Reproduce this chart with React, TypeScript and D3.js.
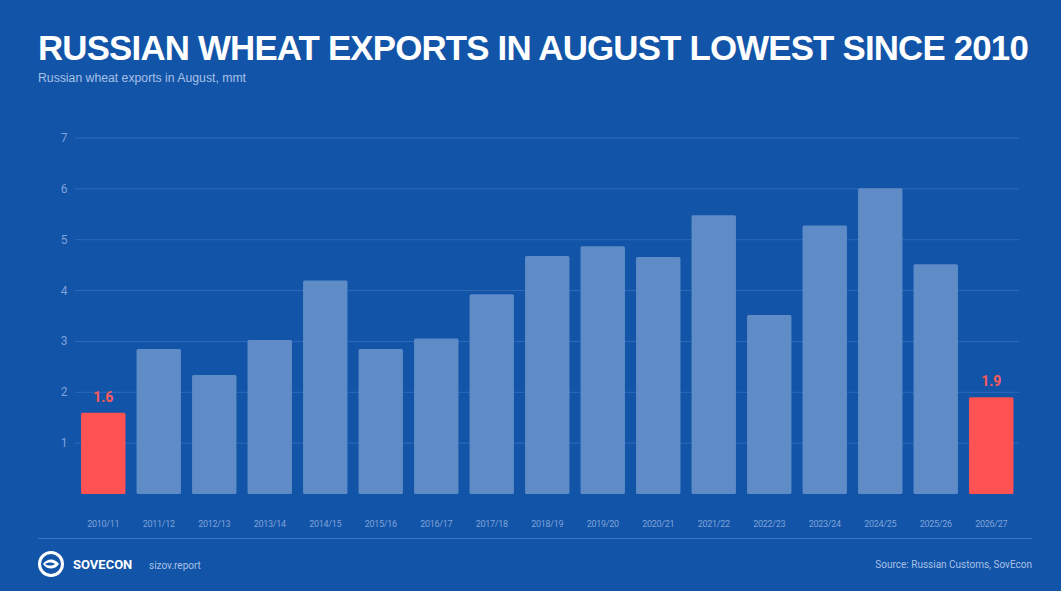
import * as React from 'react';
import * as d3 from 'd3';

const seasons = [
  '2010/11', '2011/12', '2012/13', '2013/14', '2014/15', '2015/16', '2016/17', '2017/18', '2018/19',
  '2019/20', '2020/21', '2021/22', '2022/23', '2023/24', '2024/25', '2025/26', '2026/27'
];
const exportsAug = [1.6, 2.85, 2.34, 3.03, 4.2, 2.85, 3.06, 3.93, 4.68, 4.87, 4.66, 5.48, 3.52, 5.28, 6.01, 4.52, 1.9];
const highlighted = ['2010/11', '2026/27'];
const yTicks = [1, 2, 3, 4, 5, 6, 7];

const W = 1061;
const H = 591;
const BG = '#1254a8';

export default function App() {
  const ref = React.useRef<SVGSVGElement>(null);

  React.useEffect(() => {
    const svg = d3.select(ref.current);
    svg.selectAll('*').remove();

    svg.append('rect').attr('width', W).attr('height', H).attr('fill', BG);

    svg.append('text')
      .attr('x', 38).attr('y', 60)
      .attr('fill', '#fff')
      .attr('font-family', '"Liberation Sans", Arial, sans-serif')
      .attr('font-weight', 'bold')
      .attr('font-size', 34.5)
      .attr('letter-spacing', -0.8)
      .attr('textLength', 990)
      .attr('lengthAdjust', 'spacingAndGlyphs')
      .text('RUSSIAN WHEAT EXPORTS IN AUGUST LOWEST SINCE 2010');

    svg.append('text')
      .attr('x', 38).attr('y', 82)
      .attr('fill', '#a9c1e6')
      .attr('font-family', '"Liberation Sans", Arial, sans-serif')
      .attr('font-size', 12.5)
      .attr('textLength', 208)
      .attr('lengthAdjust', 'spacingAndGlyphs')
      .text('Russian wheat exports in August, mmt');

    const x = d3.scaleBand<string>()
      .domain(seasons)
      .range([75.5, 1019])
      .paddingInner(0.2)
      .paddingOuter(0.1);
    const y = d3.scaleLinear().domain([0, 7]).range([494, 138]);

    const g = svg.append('g');

    // gridlines
    g.selectAll('line.grid')
      .data(yTicks)
      .join('line')
      .attr('x1', 75).attr('x2', 1019)
      .attr('y1', d => y(d)).attr('y2', d => y(d))
      .attr('stroke', '#2f6bb8')
      .attr('stroke-width', 1);

    g.selectAll('text.ytick')
      .data(yTicks)
      .join('text')
      .attr('x', 64).attr('y', d => y(d) + 4)
      .attr('text-anchor', 'middle')
      .attr('fill', '#7fa3d8')
      .attr('font-family', 'Roboto, sans-serif')
      .attr('font-size', 12)
      .text(d => d);

    const data = seasons.map((s, i) => ({ season: s, value: exportsAug[i] }));

    g.selectAll('rect.bar')
      .data(data)
      .join('rect')
      .attr('x', d => x(d.season)!)
      .attr('width', x.bandwidth())
      .attr('y', d => y(d.value))
      .attr('height', d => y(0) - y(d.value))
      .attr('rx', 1.5)
      .attr('fill', d => (highlighted.includes(d.season) ? '#ff5252' : '#5f8bc7'));

    g.selectAll('text.vlabel')
      .data(data.filter(d => highlighted.includes(d.season)))
      .join('text')
      .attr('x', d => x(d.season)! + x.bandwidth() / 2)
      .attr('y', d => y(d.value) - 11)
      .attr('text-anchor', 'middle')
      .attr('fill', '#ff5a5a')
      .attr('font-family', 'Roboto, sans-serif')
      .attr('font-weight', 'bold')
      .attr('font-size', 14)
      .text(d => d.value.toFixed(1));

    g.selectAll('text.xtick')
      .data(seasons)
      .join('text')
      .attr('x', d => x(d)! + x.bandwidth() / 2)
      .attr('y', 527)
      .attr('text-anchor', 'middle')
      .attr('fill', '#7fa3d8')
      .attr('font-family', 'Roboto, sans-serif')
      .attr('font-size', 9)
      .attr('letter-spacing', -0.3)
      .text(d => d);

    // footer
    svg.append('line')
      .attr('x1', 38).attr('x2', 1032)
      .attr('y1', 538.5).attr('y2', 538.5)
      .attr('stroke', '#3b75c0');

    const logo = svg.append('g').attr('transform', 'translate(51,564)');
    logo.append('circle').attr('r', 11.5).attr('fill', 'none').attr('stroke', '#fff').attr('stroke-width', 3);
    logo.append('path')
      .attr('d', 'M-8,0 C-4,-6 4,-6 8,0 C4,6 -4,6 -8,0 Z')
      .attr('fill', '#fff');
    logo.append('path')
      .attr('d', 'M-6,0 C-3,-2 1,-2 4,0 C1,2 -3,2 -6,0 Z')
      .attr('fill', BG);

    svg.append('text')
      .attr('x', 73).attr('y', 569)
      .attr('fill', '#fff')
      .attr('font-family', 'Roboto, sans-serif')
      .attr('font-weight', 'bold')
      .attr('font-size', 13)
      .text('SOVECON');

    svg.append('text')
      .attr('x', 149).attr('y', 569)
      .attr('fill', '#a9c1e6')
      .attr('font-family', 'Roboto, sans-serif')
      .attr('font-size', 10)
      .text('sizov.report');

    svg.append('text')
      .attr('x', 1032).attr('y', 568)
      .attr('text-anchor', 'end')
      .attr('fill', '#a9c1e6')
      .attr('font-family', 'Roboto, sans-serif')
      .attr('font-size', 10)
      .text('Source: Russian Customs, SovEcon');
  }, []);

  return (
    <svg
      ref={ref}
      width={W}
      height={H}
      style={{ position: 'absolute', left: 0, top: 0, display: 'block' }}
    />
  );
}
